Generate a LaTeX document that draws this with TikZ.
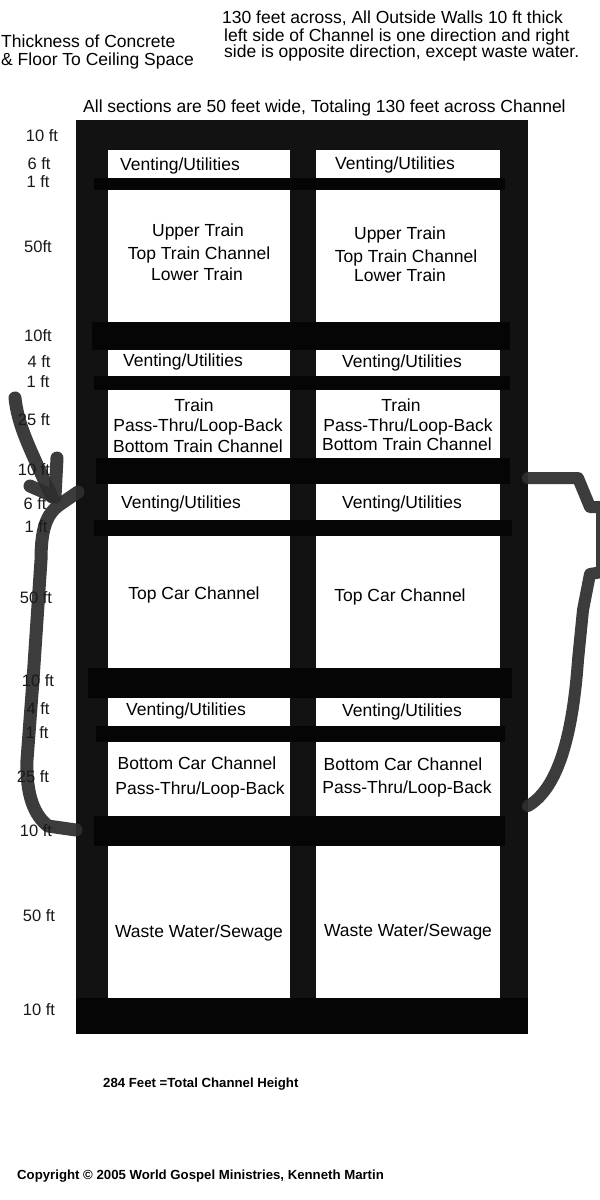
\documentclass[tikz,border=0pt]{standalone}
\usepackage{fontspec}
\setmainfont{Liberation Sans}
\tikzset{
	lbl/.style={inner sep=0pt,font=\fontsize{17.5}{17.5}\selectfont},
	dimlbl/.style={lbl,font=\fontsize{16.5}{16.5}\selectfont,text=black!90},
	head/.style={lbl,anchor=west,align=left},
	small/.style={lbl,anchor=west,font=\bfseries\fontsize{13.2}{13.2}\selectfont},
	marker/.style={draw=black!82,line width=13pt,line cap=round,line join=round,opacity=0.93},
	thinmarker/.style={marker,line width=12pt}
}
\begin{document}
\begin{tikzpicture}[x=1pt,y=-1pt]
	\useasboundingbox (0,0) rectangle (600,1200);
	\fill[white] (0,0) rectangle (600,1200);
	\fill[black!93] (76,120) rectangle (528,1034);
	\foreach \xa/\xb in {108/290,316/500}
		\foreach \ya/\yb in {150/178,190/322,350/376,390/458,484/520,536/668,698/726,742/816,846/998}
			\fill[white] (\xa,\ya) rectangle (\xb,\yb);
	\foreach \xa/\xb/\ya/\yb in {94/505/178/190,92/510/322/350,94/510/376/390,96/510/458/484,94/512/520/536,88/512/668/698,96/505/726/742,94/505/816/846,76/528/998/1034}
		\fill[black!98] (\xa,\ya) rectangle (\xb,\yb);
	\draw[marker] (78,492) -- (62,503) .. controls (48,512) and (41,525) .. (41,560) -- (37,620) -- (33,680) -- (27,760) .. controls (26,795) and (34,815) .. (48,826) -- (76,830);
	\draw[marker] (15,398) .. controls (18,425) and (28,445) .. (52,497);
	\draw[marker] (57,458) -- (55,497) -- (30,486);
	\draw[thinmarker] (528,478) -- (578,478) -- (590,507) -- (602,507) -- (602,572) -- (590,574) -- (583,610) -- (578,660) .. controls (572,745) and (555,790) .. (528,806);
	\foreach \x/\y/\t [count=\i] in {42/136/10 ft,39/164/6 ft,38/182/1 ft,38/247/50ft,38/336/10ft,39/362/4 ft,38/382/1 ft,34/420/25 ft,34/470/10 ft,35/504/6 ft,36/527/1 ft,36/598/50 ft,38/681/10 ft,38/709/4 ft,37/733/1 ft,33/777/25 ft,36/831/10 ft,39/916/50 ft,39/1010/10 ft}
		\node[dimlbl] (dim\i) at (\x,\y) {\t};
	\foreach \x/\y/\t [count=\i] in {180/166/{Venting/Utilities},395/165/{Venting/Utilities},183/362/{Venting/Utilities},402/363/{Venting/Utilities},181/504/{Venting/Utilities},402/504/{Venting/Utilities},186/711/{Venting/Utilities},402/712/{Venting/Utilities},198/232/Upper Train,400/235/Upper Train,199/255/Top Train Channel,406/258/Top Train Channel,197/274/Lower Train,400/275/Lower Train,194/405/Train,401/405/Train,198/427/{Pass-Thru/Loop-Back},408/427/{Pass-Thru/Loop-Back},198/446/Bottom Train Channel,407/444/Bottom Train Channel,194/595/Top Car Channel,400/597/Top Car Channel,197/763/Bottom Car Channel,403/764/Bottom Car Channel,200/790/{Pass-Thru/Loop-Back},407/789/{Pass-Thru/Loop-Back},199/933/{Waste Water/Sewage},408/932/{Waste Water/Sewage}}
		\node[lbl] (cell\i) at (\x,\y) {\t};
	\node[head] (thick) at (1,52) {Thickness of Concrete\\[1pt]\& Floor To Ceiling Space};
	\node[head] (across) at (222,18) {130 feet across, All Outside Walls 10 ft thick};
	\node[head] (side) at (224,45) {left side of Channel is one direction and right\\[-2pt]side is opposite direction, except waste water.};
	\node[head] (width) at (83,108) {All sections are 50 feet wide, Totaling 130 feet across Channel};
	\node[small] (total) at (103,1084) {284 Feet =Total Channel Height};
	\node[small] (copy) at (17,1176) {Copyright © 2005 World Gospel Ministries, Kenneth Martin};
\end{tikzpicture}
\end{document}
